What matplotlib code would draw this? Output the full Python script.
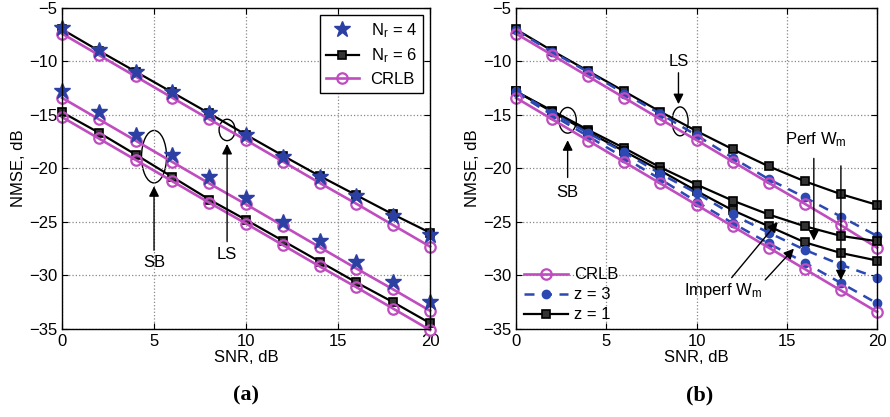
import matplotlib
matplotlib.use('Agg')
import matplotlib.pyplot as plt
from matplotlib.patches import Ellipse

plt.rcParams['font.family'] = ['Liberation Sans', 'DejaVu Sans']
plt.rcParams['mathtext.fontset'] = 'custom'
plt.rcParams['mathtext.rm'] = 'Liberation Sans'
plt.rcParams['mathtext.it'] = 'Liberation Sans'

snr = [0, 2, 4, 6, 8, 10, 12, 14, 16, 18, 20]

# panel (a): LS group
a_ls_nr4 = [-6.9, -8.9, -10.95, -12.9, -14.85, -16.9, -18.9, -20.8, -22.6, -24.4, -26.2]
a_ls_nr6 = [-7.0, -9.0, -10.95, -12.9, -14.85, -16.85, -18.8, -20.7, -22.5, -24.3, -26.0]
a_ls_crlb = [-7.4, -9.4, -11.4, -13.4, -15.4, -17.35, -19.35, -21.35, -23.3, -25.3, -27.3]
# panel (a): SB group
a_sb_nr4 = [-12.75, -14.7, -16.9, -18.7, -20.8, -22.8, -25.0, -26.8, -28.7, -30.6, -32.45]
a_sb_crlb4 = [-13.4, -15.4, -17.4, -19.4, -21.4, -23.35, -25.35, -27.35, -29.35, -31.3, -33.3]
a_sb_nr6 = [-14.75, -16.65, -18.7, -20.8, -22.9, -24.8, -26.75, -28.7, -30.65, -32.5, -34.45]
a_sb_crlb6 = [-15.2, -17.2, -19.2, -21.2, -23.2, -25.15, -27.15, -29.15, -31.1, -33.1, -35.1]

# panel (b): LS group
b_ls_z1 = [-7.0, -9.0, -10.9, -12.8, -14.7, -16.5, -18.2, -19.8, -21.2, -22.4, -23.4]
b_ls_z3 = [-7.1, -9.1, -11.0, -13.0, -14.9, -16.9, -19.0, -21.0, -22.7, -24.5, -26.3]
b_ls_crlb = [-7.4, -9.4, -11.4, -13.4, -15.4, -17.35, -19.35, -21.35, -23.3, -25.3, -27.4]
# panel (b): SB group
b_sb_z1_imperf = [-12.8, -14.6, -16.4, -18.1, -19.9, -21.5, -23.0, -24.3, -25.4, -26.3, -26.8]
b_sb_z1_perf = [-12.8, -14.7, -16.6, -18.4, -20.2, -22.1, -23.9, -25.4, -26.9, -27.9, -28.6]
b_sb_z3_imperf = [-12.8, -14.8, -16.7, -18.5, -20.5, -22.3, -24.3, -26.0, -27.6, -29.0, -30.2]
b_sb_z3_perf = [-12.9, -15.0, -17.0, -19.0, -21.0, -23.1, -25.1, -27.0, -28.8, -30.7, -32.6]
b_sb_crlb = [-13.4, -15.4, -17.4, -19.4, -21.4, -23.4, -25.4, -27.4, -29.4, -31.4, -33.4]

MAG = '#BF4DBF'
STAR = '#2C3FA3'
BLUE = '#2B48B3'

fig = plt.figure(figsize=(8.9, 4.17), dpi=100)
axa = fig.add_axes([0.0697, 0.211, 0.4135, 0.770])
axb = fig.add_axes([0.5798, 0.211, 0.4056, 0.770])


def style_axes(ax):
    ax.set_xlim(0, 20)
    ax.set_ylim(-35, -5)
    ax.set_xticks([0, 5, 10, 15, 20])
    ax.set_yticks([-35, -30, -25, -20, -15, -10, -5])
    ax.grid(True, linestyle=':', color='#888888', linewidth=0.9)
    ax.tick_params(direction='in', labelsize=12, length=4, top=True, right=True)
    for s in ax.spines.values():
        s.set_linewidth(1.0)
    ax.set_xlabel('SNR, dB', fontsize=12, labelpad=1)
    ax.set_ylabel('NMSE, dB', fontsize=12, labelpad=2)


def black(ax, y, label=None):
    return ax.plot(snr, y, '-s', color='black', lw=1.6, ms=5.5, mfc='#333333',
                   mec='black', mew=1.2, clip_on=False, label=label)[0]


def crlb(ax, y, label=None):
    return ax.plot(snr, y, '-o', color=MAG, lw=1.9, ms=7.5, mfc='none',
                   mec=MAG, mew=1.6, clip_on=False, label=label)[0]


def blue(ax, y, label=None):
    return ax.plot(snr, y, '--o', color=BLUE, lw=1.8, ms=6, mfc=BLUE,
                   mec=BLUE, dashes=(4, 3), clip_on=False, label=label)[0]


# ---- panel (a)
style_axes(axa)
h6 = black(axa, a_ls_nr6, 'N$_\\mathrm{r}$ = 6')
hc = crlb(axa, a_ls_crlb, 'CRLB')
black(axa, a_sb_nr6)
crlb(axa, a_sb_crlb4)
crlb(axa, a_sb_crlb6)
h4 = axa.plot(snr, a_ls_nr4, '*', color=STAR, ms=12, clip_on=False,
              label='N$_\\mathrm{r}$ = 4')[0]
axa.plot(snr, a_sb_nr4, '*', color=STAR, ms=12, clip_on=False)
leg = axa.legend(handles=[h4, h6, hc], loc='upper right', fontsize=12,
                 fancybox=False, edgecolor='black', framealpha=1,
                 handlelength=2.0, handletextpad=0.7, borderaxespad=0.45,
                 labelspacing=0.4, borderpad=0.35)
leg.get_frame().set_linewidth(1.0)

axa.add_patch(Ellipse((5.0, -18.9), 1.36, 4.9, fill=False, color='black', lw=1))
axa.add_patch(Ellipse((8.97, -16.4), 0.87, 2.0, fill=False, color='black', lw=1))
arr = dict(arrowstyle='-|>', color='black', lw=1, mutation_scale=15)
axa.annotate('', xy=(5.0, -21.4), xytext=(5.0, -27.9), arrowprops=arr)
axa.text(5.0, -28.8, 'SB', ha='center', va='center', fontsize=12)
axa.annotate('', xy=(8.97, -17.45), xytext=(8.97, -27.1), arrowprops=arr)
axa.text(8.97, -28.0, 'LS', ha='center', va='center', fontsize=12)

# ---- panel (b)
style_axes(axb)
hz1 = black(axb, b_ls_z1, 'z = 1')
hz3 = blue(axb, b_ls_z3, 'z = 3')
hcb = crlb(axb, b_ls_crlb, 'CRLB')
black(axb, b_sb_z1_imperf)
black(axb, b_sb_z1_perf)
blue(axb, b_sb_z3_imperf)
blue(axb, b_sb_z3_perf)
crlb(axb, b_sb_crlb)
axb.legend(handles=[hcb, hz3, hz1], loc='lower left', fontsize=12, frameon=False,
           handlelength=2.6, handletextpad=0.35, borderaxespad=0.0,
           labelspacing=0.3, bbox_to_anchor=(0.005, 0.0))

axb.add_patch(Ellipse((9.09, -15.6), 0.89, 2.7, fill=False, color='black', lw=1))
axb.add_patch(Ellipse((2.86, -15.5), 0.96, 2.4, fill=False, color='black', lw=1))
axb.text(9.0, -10.0, 'LS', ha='center', va='center', fontsize=12)
axb.annotate('', xy=(9.0, -14.25), xytext=(9.0, -10.8), arrowprops=arr)
axb.text(2.86, -22.2, 'SB', ha='center', va='center', fontsize=12)
axb.annotate('', xy=(2.86, -17.1), xytext=(2.86, -21.1), arrowprops=arr)

axb.text(16.6, -17.3, 'Perf W$_\\mathrm{m}$', ha='center', va='center', fontsize=12)
axb.annotate('', xy=(16.5, -27.0), xytext=(16.5, -18.8), arrowprops=arr)
axb.annotate('', xy=(18.0, -30.7), xytext=(18.0, -19.5), arrowprops=arr)

axb.text(11.5, -31.4, 'Imperf W$_\\mathrm{m}$', ha='center', va='center', fontsize=12)
axb.annotate('', xy=(14.6, -24.8), xytext=(11.85, -30.4), arrowprops=arr)
axb.annotate('', xy=(15.5, -27.3), xytext=(13.7, -30.6), arrowprops=arr)

fig.text(246 / 890, 1 - 395 / 417, '(a)', ha='center', va='center', fontsize=16,
         fontweight='bold', family='Liberation Serif')
fig.text(700 / 890, 1 - 395 / 417, '(b)', ha='center', va='center', fontsize=16,
         fontweight='bold', family='Liberation Serif')

fig.savefig('out.png', dpi=100)
